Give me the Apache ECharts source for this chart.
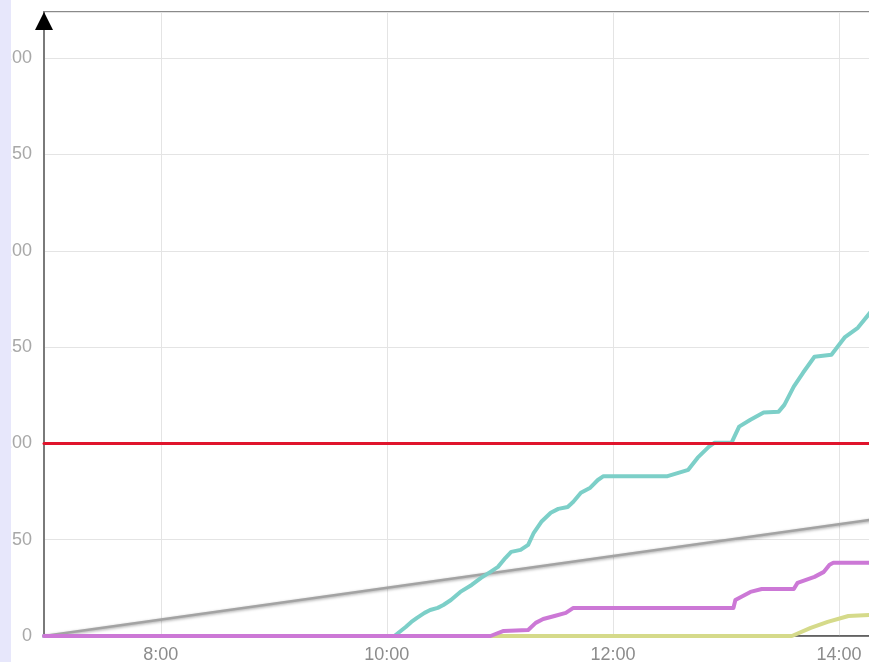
<!DOCTYPE html>
<html>
<head>
<meta charset="utf-8">
<script src="https://cdn.jsdelivr.net/npm/echarts@6/dist/echarts.min.js"></script>
<style>
  html, body { margin: 0; padding: 0; background: #fff; }
  #main { width: 869px; height: 662px; }
</style>
</head>
<body>
<div id="main"></div>
<script>
// x range of the view
const viewStart = '6:58'
const viewEnd = '14:17'

// cumulative count (teal)
const tealTimes = ['6:58', '10:04', '10:10', '10:13', '10:16', '10:20', '10:23', '10:27', '10:30', '10:34', '10:39', '10:45', '10:50', '10:55', '10:59', '11:03', '11:06', '11:11', '11:15', '11:18', '11:22', '11:27', '11:31', '11:36', '11:39', '11:43', '11:48', '11:52', '11:55', '12:29', '12:40', '12:45', '12:51', '12:54', '13:03', '13:07', '13:13', '13:20', '13:28', '13:31', '13:36', '13:41', '13:47', '13:56', '14:03', '14:10', '14:17']
const tealValues = [0, 0, 4.7, 7.3, 9.4, 12, 13.5, 14.6, 16.1, 18.7, 22.9, 26.5, 30.2, 33.3, 35.9, 40.6, 43.7, 44.7, 47.3, 53.6, 59.3, 64, 66, 67, 69.7, 74.4, 77, 81, 83, 83, 86.3, 92.6, 98.3, 100.4, 100.4, 108.7, 112.3, 116, 116.5, 120, 129.5, 136.8, 145, 146, 155, 160, 168.5]

// purple
const purpleTimes = ['6:58', '10:55', '11:02', '11:15', '11:19', '11:23', '11:29', '11:35', '11:39', '13:04', '13:05', '13:13', '13:19', '13:36', '13:38', '13:47', '13:52', '13:55', '13:57', '14:17']
const purpleValues = [0, 0, 2.6, 3.1, 6.8, 8.8, 10.4, 12, 14.6, 14.6, 18.7, 22.9, 24.4, 24.4, 27.6, 30.7, 33.3, 37, 38, 38]

// yellow
const yellowTimes = ['6:58', '13:35', '13:45', '13:54', '14:05', '14:17']
const yellowValues = [0, 0, 4.2, 7.3, 10.4, 10.9]

// grey pace line and red target line
const paceTimes = ['6:58', '14:17']
const paceValues = [0, 60.4]
const targetTimes = ['6:58', '14:17']
const targetValues = [100, 100]

const yMax = 324
const yInterval = 50

function ts(hm) {
  const [h, m] = hm.split(':').map(Number)
  return new Date(2020, 0, 1, h, m).getTime()
}

function pairs(times, values) {
  return times.map((t, i) => [ts(t), values[i]])
}

const chart = echarts.init(document.getElementById('main'))

function lineSeries(name, times, values, color, width, z, extra) {
  return Object.assign({
    name: name,
    type: 'line',
    data: pairs(times, values),
    showSymbol: false,
    symbol: 'none',
    animation: false,
    z: z,
    lineStyle: { color: color, width: width, cap: 'round', join: 'round' }
  }, extra || {})
}

// 2.5h makes the time scale pick a 2 hour step
const hourStep = 2.5 * 3600 * 1000

chart.setOption({
  animation: false,
  grid: {
    left: 44,
    top: 12,
    right: -2,
    bottom: 26,
    containLabel: false,
    outerBoundsMode: 'none',
    show: true,
    borderColor: '#8a8a8a',
    borderWidth: 2,
    backgroundColor: 'transparent'
  },
  xAxis: {
    type: 'time',
    min: ts(viewStart),
    max: ts(viewEnd),
    minInterval: hourStep,
    maxInterval: hourStep,
    axisLine: { show: true, lineStyle: { color: '#555', width: 1.5 } },
    axisTick: { show: false },
    splitLine: { show: true, lineStyle: { color: '#e4e4e4', width: 1 } },
    axisLabel: {
      formatter: '{H}:{mm}',
      color: '#8c8c8c',
      fontSize: 18,
      fontFamily: 'Liberation Sans, Arial, sans-serif',
      margin: 10,
      showMinLabel: false,
      showMaxLabel: false
    }
  },
  yAxis: {
    type: 'value',
    min: 0,
    max: yMax,
    interval: yInterval,
    axisLine: { show: true, lineStyle: { color: '#7a7a7a', width: 2 } },
    axisTick: { show: false },
    splitLine: { show: true, lineStyle: { color: '#e4e4e4', width: 1 } },
    axisLabel: {
      color: '#a8a8a8',
      fontSize: 18,
      fontFamily: 'Liberation Sans, Arial, sans-serif',
      margin: 12,
      showMaxLabel: false
    }
  },
  series: [
    lineSeries('pace', paceTimes, paceValues, '#a3a3a3', 2.5, 2, {
      lineStyle: { color: '#a3a3a3', width: 2.5, shadowBlur: 3, shadowColor: 'rgba(0,0,0,0.35)', shadowOffsetY: 1 }
    }),
    lineSeries('yellow', yellowTimes, yellowValues, '#d5da8a', 4, 3),
    lineSeries('teal', tealTimes, tealValues, '#7ccfc8', 4, 4),
    lineSeries('purple', purpleTimes, purpleValues, '#cc78d6', 4, 5),
    lineSeries('target', targetTimes, targetValues, '#e0142c', 3, 6)
  ]
})

// arrow at top of the y axis + lavender strip at the left
const axisTop = chart.convertToPixel({ xAxisIndex: 0, yAxisIndex: 0 }, [ts(viewStart), yMax])
chart.setOption({
  graphic: [
    {
      type: 'polygon',
      z: 100,
      shape: { points: [[axisTop[0] - 9, axisTop[1] + 18], [axisTop[0] + 9, axisTop[1] + 18], [axisTop[0], axisTop[1]]] },
      style: { fill: '#000' }
    },
    {
      type: 'rect',
      z: 100,
      shape: { x: 0, y: 0, width: 11, height: 662 },
      style: { fill: '#e7e7fb' }
    }
  ]
})
</script>
</body>
</html>
